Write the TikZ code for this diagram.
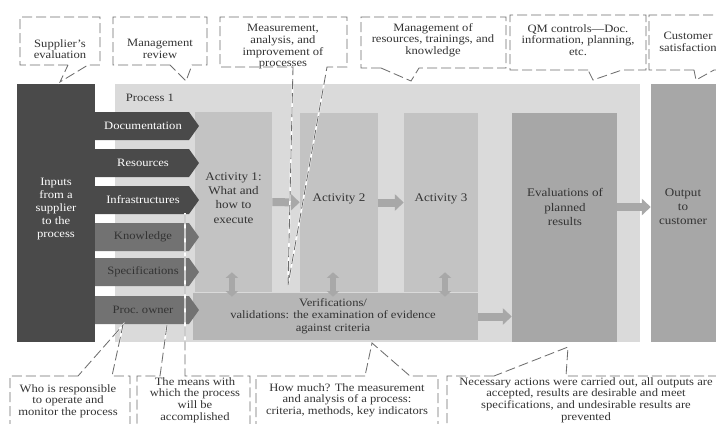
\documentclass[tikz,border=0pt]{standalone}
\usepackage{fontspec}
\setmainfont{Liberation Serif}[FakeStretch=1.12]
\usepackage{tikz}
\usetikzlibrary{arrows.meta,fit,calc}

\definecolor{darkin}{HTML}{4A4A4A}
\definecolor{medin}{HTML}{727272}
\definecolor{procbg}{HTML}{DADADA}
\definecolor{actbg}{HTML}{C3C3C3}
\definecolor{verbg}{HTML}{B6B6B6}
\definecolor{evalbg}{HTML}{A7A7A7}
\definecolor{arrgray}{HTML}{A8A8A8}
\definecolor{dashgray}{HTML}{6E6E6E}
\definecolor{txtdark}{HTML}{333333}

\begin{document}
\begin{tikzpicture}[x=0.25mm,y=-0.25mm,
    font=\fontsize{8}{8.3}\selectfont,
    callout/.style={draw=dashgray,line width=0.6pt,dash pattern=on 2.5mm off 1mm,
        preaction={draw=white,line width=1.2pt,solid}},
    ctext/.style={align=center,text=txtdark},
    blockbox/.style={inner sep=0pt,align=center,text=txtdark},
    fat/.style={draw=arrgray,line width=2mm,-{Triangle[length=2.2mm,width=4mm]}},
    updown/.style={draw=arrgray,line width=1.4mm,
        {Triangle[length=1.4mm,width=3mm]}-{Triangle[length=1.4mm,width=3mm]}}]
\useasboundingbox (0,0) rectangle (716,423);
\fill[white] (0,0) rectangle (716,423);
\clip (0,0) rectangle (716,423);

% Process frame and inputs
\node[blockbox,fill=procbg,fit={(115,84) (640,342)}] (proc) {};
\node[anchor=west,text=txtdark] (proclbl) at (121,98) {Process 1};
\node[blockbox,fill=darkin,text=white,font=\fontsize{8}{9.3}\selectfont,
    fit={(17,84) (95,342)}] (inputs) {Inputs\\from a\\supplier\\to the\\process};

% Activities
\node[blockbox,fill=actbg,font=\fontsize{8.3}{10}\selectfont,fit={(195,112) (272,292)}] (act1)
    {Activity 1:\\What and\\how to\\execute};
\node[blockbox,fill=actbg,font=\fontsize{8.3}{10}\selectfont,fit={(300,113) (378,292)}] (act2) {Activity 2};
\node[blockbox,fill=actbg,font=\fontsize{8.3}{10}\selectfont,fit={(404,113) (478,292)}] (act3) {Activity 3};
\node[blockbox,fill=verbg,fit={(193,293) (478,340)}] (ver) {};
\node[ctext,font=\fontsize{8}{9}\selectfont] (vertxt) at (333,316)
    {Verifications/\\validations: the examination of evidence\\against criteria};
\node[blockbox,fill=evalbg,fit={(512,113) (617,342)}] (eval) {};
\node[ctext,font=\fontsize{8.3}{10}\selectfont] (evaltxt) at (565,207) {Evaluations of\\planned\\results};
\node[blockbox,fill=evalbg,fit={(651,84) (740,342)}] (outp) {};
\node[ctext,font=\fontsize{8.3}{10}\selectfont] (outtxt) at (683,207) {Output\\to\\customer};

% Input arrows
\foreach \yc/\lbl/\fc/\tc [count=\i] in {126/Documentation/darkin/white,
    163/Resources/darkin/white, 200/Infrastructures/darkin/white,
    237/Knowledge/medin/txtdark, 272/Specifications/medin/txtdark,
    310/Proc.\ owner/medin/txtdark}
{
    \fill[\fc] (95,\yc-14) -- (189,\yc-14) -- (199,\yc) -- (189,\yc+14) -- (95,\yc+14) -- cycle;
    \node[text=\tc] (in\i) at (143,\yc) {\lbl};
}

% Flow arrows
\draw[fat] (act1) -- (act2);
\draw[fat] (act2) -- (act3);
\draw[fat] (ver) -- (ver -| eval.west);
\draw[fat] (evaltxt -| eval.east) -- (evaltxt -| outp.west);
\foreach \b/\dx in {act1/-0.4mm, act2/-1.5mm, act3/1mm}
    \draw[updown] ([xshift=\dx,yshift=5mm]\b.south) -- ([xshift=\dx,yshift=-1mm]\b.south |- ver.north);

% Top callouts
\draw[callout] (68,65) -- (20,65) -- (20,17) -- (100,17) -- (100,65) -- (88,65) -- (60,82) -- cycle;
\node[ctext] (supeval) at (60,49) {Supplier's\\evaluation};
\draw[callout] (170,65) -- (113,65) -- (113,17) -- (207,17) -- (207,65) -- (192,65) -- (186,81) -- cycle;
\node[ctext] (mgmtrev) at (160,49) {Management\\review};
\draw[callout] (288,285) -- (293,67) -- (220,67) -- (220,17) -- (347,17) -- (347,67) -- (327,67) -- cycle;
\node[ctext] (measure) at (283,47) {Measurement,\\analysis, and\\improvement of\\processes};
\draw[callout] (381,68) -- (361,68) -- (361,17) -- (506,17) -- (506,68) -- (419,68) -- (411,81) -- cycle;
\node[ctext] (resmgmt) at (433,40) {Management of\\resources, trainings, and\\knowledge};
\draw[callout] (588,70) -- (510,70) -- (510,15) -- (646,15) -- (646,70) -- (622,70) -- (593,80) -- cycle;
\node[ctext] (qmctrl) at (578,40) {QM controls---Doc.\\information, planning,\\etc.};
\draw[callout] (694,70) -- (649,70) -- (649,15) -- (740,15) -- (740,70) -- (714,70) -- (696,80) -- cycle;
\node[ctext] (custsat) at (688,42) {Customer\\satisfaction};

% Bottom callouts
\draw[callout] (78,376) -- (10,376) -- (10,440) -- (130,440) -- (130,376) -- (112,376) -- (123,325) -- cycle;
\node[ctext] (whoresp) at (68,401) {Who is responsible\\to operate and\\monitor the process};
\draw[callout] (167,325) -- (160,376) -- (137,376) -- (137,440) -- (250,440) -- (250,376) -- (185,376) -- (185,213);
\node[ctext] (means) at (195,400) {The means with\\which the process\\will be\\accomplished};
\draw[callout] (365,376) -- (256,376) -- (256,440) -- (438,440) -- (438,376) -- (410,376) -- (372,343) -- cycle;
\node[ctext] (howmuch) at (347,400) {How much? The measurement\\and analysis of a process:\\criteria, methods, key indicators};
\draw[callout] (494,376) -- (447,376) -- (447,440) -- (740,440) -- (740,376) -- (566,376) -- (568,347) -- cycle;
\node[ctext] (necess) at (586,400) {Necessary actions were carried out, all outputs are\\accepted, results are desirable and meet\\specifications, and undesirable results are\\prevented};
\end{tikzpicture}
\end{document}
